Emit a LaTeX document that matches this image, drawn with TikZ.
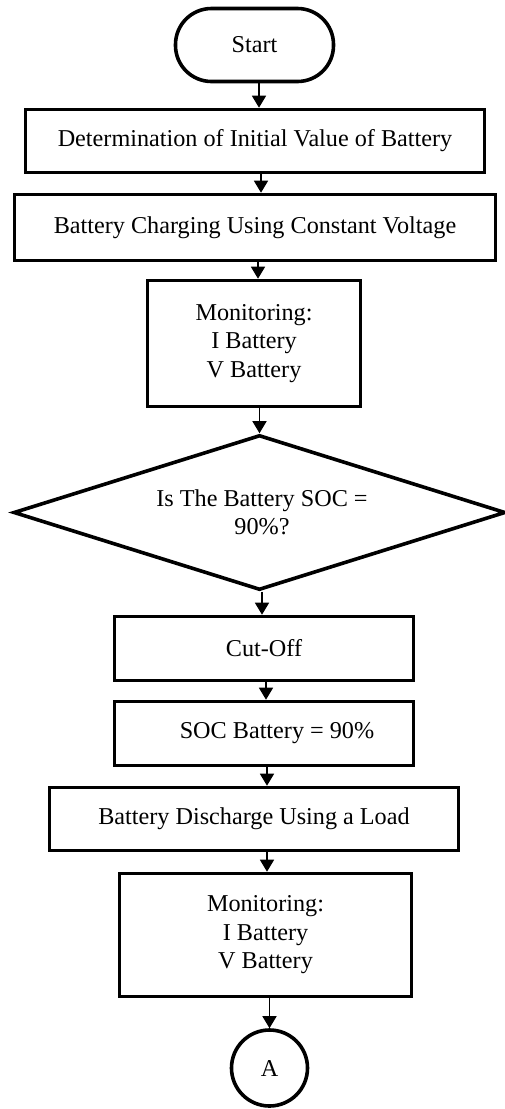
\documentclass[tikz,border=0pt]{standalone}
\usepackage{fontspec}
\setmainfont{Liberation Serif}
\usetikzlibrary{shapes.geometric,arrows.meta}
\begin{document}
\begin{tikzpicture}[x=1pt,y=-1pt,
  every node/.style={font=\fontsize{24.2}{28.5}\selectfont, align=center, inner sep=0pt},
  box/.style={draw, line width=3.6pt, minimum width=#1},
  term/.style={draw, line width=3.6pt, rounded corners=36pt, minimum width=158pt, minimum height=73pt},
  dec/.style={draw, diamond, aspect=3.17, line width=3.6pt, minimum width=492pt, minimum height=155pt},
  conn/.style={draw, circle, line width=3.6pt, minimum size=76pt},
  arr/.style={line width=1.6pt, -{Triangle[width=14pt,length=12pt]}}]
\useasboundingbox (0,0) rectangle (505,1109);
\node[term] (start) at (254.5,45) {Start};
\node[box=459pt, minimum height=63pt] (b1) at (255,141) {Determination of Initial Value of Battery};
\node[box=481pt, minimum height=66pt] (b2) at (255,227.5) {Battery Charging Using Constant Voltage};
\node[box=213pt, minimum height=126pt] (b3) at (254,343.5) {Monitoring:\\I Battery\\V Battery};
\node[dec] (d) at (259.5,512.5) {\hspace*{5pt}Is The Battery SOC =\\\hspace*{5pt}90\%?};
\node[box=299pt, minimum height=64pt] (c) at (264,648.5) {Cut-Off};
\node[box=299pt, minimum height=64pt] (s) at (264,733.5) {\hspace*{26pt}SOC Battery = 90\%};
\node[box=409pt, minimum height=63pt] (dis) at (254,819) {Battery Discharge Using a Load};
\node[box=292pt, minimum height=123pt] (m2) at (265.5,935) {Monitoring:\\I Battery\\V Battery};
\node[conn] (a) at (269.5,1068) {A};
\draw[arr] ([xshift=4.5pt]start.south) -- ([xshift=4.5pt]start.south |- b1.north);
\draw[arr] ([xshift=6pt]b1.south) -- ([xshift=6pt]b1.south |- b2.north);
\draw[arr] ([xshift=3pt]b2.south) -- ([xshift=3pt]b2.south |- b3.north);
\draw[arr] ([xshift=5.5pt]b3.south) -- (d.north);
\draw[arr] ([xshift=2.5pt]d.south) -- ([xshift=2.5pt]d.south |- c.north);
\draw[arr] ([xshift=2pt]c.south) -- ([xshift=2pt]c.south |- s.north);
\draw[arr] ([xshift=3pt]s.south) -- ([xshift=3pt]s.south |- dis.north);
\draw[arr] ([xshift=13pt]dis.south) -- ([xshift=13pt]dis.south |- m2.north);
\draw[arr] ([xshift=4pt]m2.south) -- (a.north);
\end{tikzpicture}
\end{document}
